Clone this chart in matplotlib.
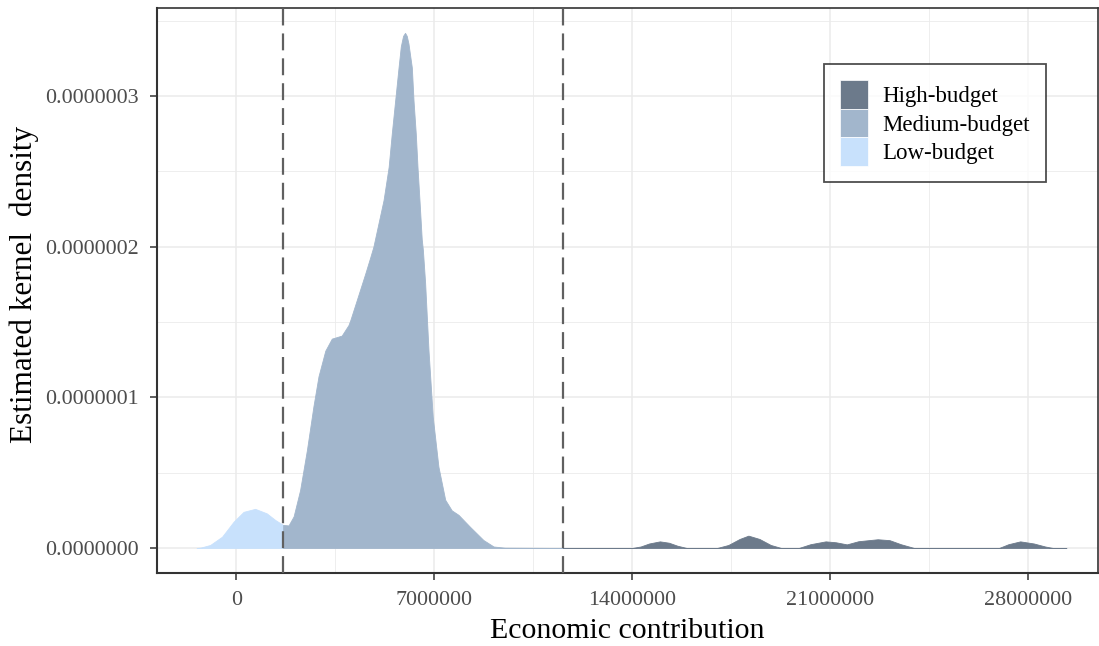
import matplotlib
matplotlib.use("Agg")
import matplotlib.pyplot as plt
from matplotlib.patches import Patch
from matplotlib.ticker import MultipleLocator, FixedLocator

plt.rcParams['font.family'] = ['Liberation Serif', 'DejaVu Serif']

# Density curves (x: economic contribution, y: density)
low_x = [-1.4e6, -1.27e6, -0.92e6, -0.5e6, -0.09e6, 0.26e6, 0.67e6, 1.08e6, 1.38e6, 1.66e6]
low_y = [0.0, 0.002e-7, 0.02e-7, 0.075e-7, 0.175e-7, 0.24e-7, 0.26e-7, 0.23e-7, 0.186e-7, 0.153e-7]

med_x = [1.66e6, 1.85e6, 2.03e6, 2.26e6, 2.5e6, 2.73e6, 2.91e6, 3.15e6, 3.38e6, 3.73e6,
         3.97e6, 4.03e6, 4.27e6, 4.56e6, 4.74e6, 4.85e6, 5.21e6, 5.39e6, 5.50e6, 5.62e6,
         5.74e6, 5.82e6, 5.90e6, 5.97e6, 6.03e6, 6.09e6, 6.21e6, 6.27e6, 6.35e6, 6.41e6,
         6.48e6, 6.56e6, 6.60e6, 6.68e6, 6.80e6, 6.95e6, 7.15e6, 7.39e6, 7.62e6, 7.86e6,
         8.27e6, 8.74e6, 9.1e6, 9.5e6, 11.56e6]
med_y = [0.153e-7, 0.15e-7, 0.21e-7, 0.385e-7, 0.65e-7, 0.94e-7, 1.14e-7, 1.31e-7, 1.39e-7, 1.41e-7,
         1.48e-7, 1.51e-7, 1.65e-7, 1.82e-7, 1.93e-7, 2.0e-7, 2.31e-7, 2.53e-7, 2.75e-7, 2.97e-7,
         3.19e-7, 3.33e-7, 3.40e-7, 3.42e-7, 3.40e-7, 3.35e-7, 3.19e-7, 2.97e-7, 2.75e-7, 2.53e-7,
         2.31e-7, 2.05e-7, 1.98e-7, 1.76e-7, 1.31e-7, 0.87e-7, 0.54e-7, 0.32e-7, 0.25e-7, 0.22e-7,
         0.14e-7, 0.053e-7, 0.01e-7, 0.002e-7, 0.0]

high_x = [11.56e6, 14.0e6, 14.3e6, 14.6e6, 14.98e6, 15.3e6, 15.6e6, 15.93e6, 17.0e6, 17.4e6,
          17.8e6, 18.11e6, 18.5e6, 18.9e6, 19.27e6, 19.89e6, 20.3e6, 20.84e6, 21.2e6, 21.59e6,
          22.0e6, 22.68e6, 23.1e6, 23.5e6, 23.97e6, 26.97e6, 27.3e6, 27.72e6, 28.2e6, 28.6e6,
          28.88e6, 29.35e6]
high_y = [0.0, 0.0, 0.01e-7, 0.03e-7, 0.044e-7, 0.035e-7, 0.015e-7, 0.0, 0.0, 0.02e-7,
          0.06e-7, 0.082e-7, 0.06e-7, 0.02e-7, 0.0, 0.0, 0.025e-7, 0.044e-7, 0.038e-7, 0.024e-7,
          0.045e-7, 0.058e-7, 0.052e-7, 0.025e-7, 0.0, 0.0, 0.025e-7, 0.044e-7, 0.03e-7, 0.01e-7,
          0.0, 0.0]

cutoffs = [1.66e6, 11.56e6]
x_ticks = [0, 7000000, 14000000, 21000000, 28000000]
y_ticks = [0.0, 1e-7, 2e-7, 3e-7]
y_tick_labels = ["0.0000000", "0.0000001", "0.0000002", "0.0000003"]
labels = ["High-budget", "Medium-budget", "Low-budget"]
colors = {"High-budget": "#6C7A8B", "Medium-budget": "#A2B6CC", "Low-budget": "#C8E1FC"}

W, H = 1099, 646
fig = plt.figure(figsize=(W / 100, H / 100), dpi=100)
ax = fig.add_axes([157 / W, 1 - 573 / H, (1098 - 157) / W, (573 - 8) / H])

ax.fill_between(low_x, low_y, 0, color=colors["Low-budget"], lw=0.6, zorder=2)
ax.fill_between(med_x, med_y, 0, color=colors["Medium-budget"], lw=0.6, zorder=2)
ax.fill_between(high_x, high_y, 0, color=colors["High-budget"], lw=0.6, zorder=2)

for c in cutoffs:
    ax.axvline(c, color="#606060", lw=1.6, ls=(0, (7.6, 3.6)), zorder=3)

ax.set_xlim(-2.8e6, 30.47e6)
ax.set_ylim(-0.166e-7, 3.585e-7)

ax.xaxis.set_major_locator(FixedLocator(x_ticks))
ax.xaxis.set_minor_locator(MultipleLocator(3500000))
ax.yaxis.set_major_locator(FixedLocator(y_ticks))
ax.yaxis.set_minor_locator(MultipleLocator(0.5e-7))
ax.set_xticklabels([str(v) for v in x_ticks])
ax.set_yticklabels(y_tick_labels)

ax.grid(which="major", color="#EBEBEB", lw=1.1, zorder=0)
ax.grid(which="minor", color="#EBEBEB", lw=0.6, zorder=0)
ax.set_axisbelow(True)

ax.tick_params(which="major", direction="out", length=5, width=1.1, color="#333333",
               labelsize=15.8, labelcolor="#4D4D4D")
ax.tick_params(axis="y", which="major", pad=8)
ax.tick_params(axis="x", which="major", pad=8)
ax.tick_params(which="minor", length=0)

for s in ax.spines.values():
    s.set_color("#333333")
    s.set_linewidth(1.2)
ax.spines["left"].set_linewidth(1.5)
ax.spines["bottom"].set_linewidth(1.5)

ax.set_xlabel("Economic contribution", fontsize=21.5, color="black", labelpad=6)
ax.set_ylabel("Estimated kernel  density", fontsize=22.5, color="black")
ax.yaxis.set_label_coords(-0.1255, 0.51)

handles = [Patch(facecolor=colors[l], edgecolor="white", lw=0.5) for l in labels]
leg = ax.legend(handles, labels, loc="upper left",
                bbox_to_anchor=(824 / W, 1 - 64 / H), bbox_transform=fig.transFigure,
                borderaxespad=0, fontsize=16.5, frameon=True, fancybox=False,
                handlelength=1.2, handleheight=1.55, handletextpad=0.65,
                labelspacing=0.0, borderpad=0.7)
leg.get_frame().set_edgecolor("#222222")
leg.get_frame().set_linewidth(1.3)

fig.savefig("out.png", dpi=100)
